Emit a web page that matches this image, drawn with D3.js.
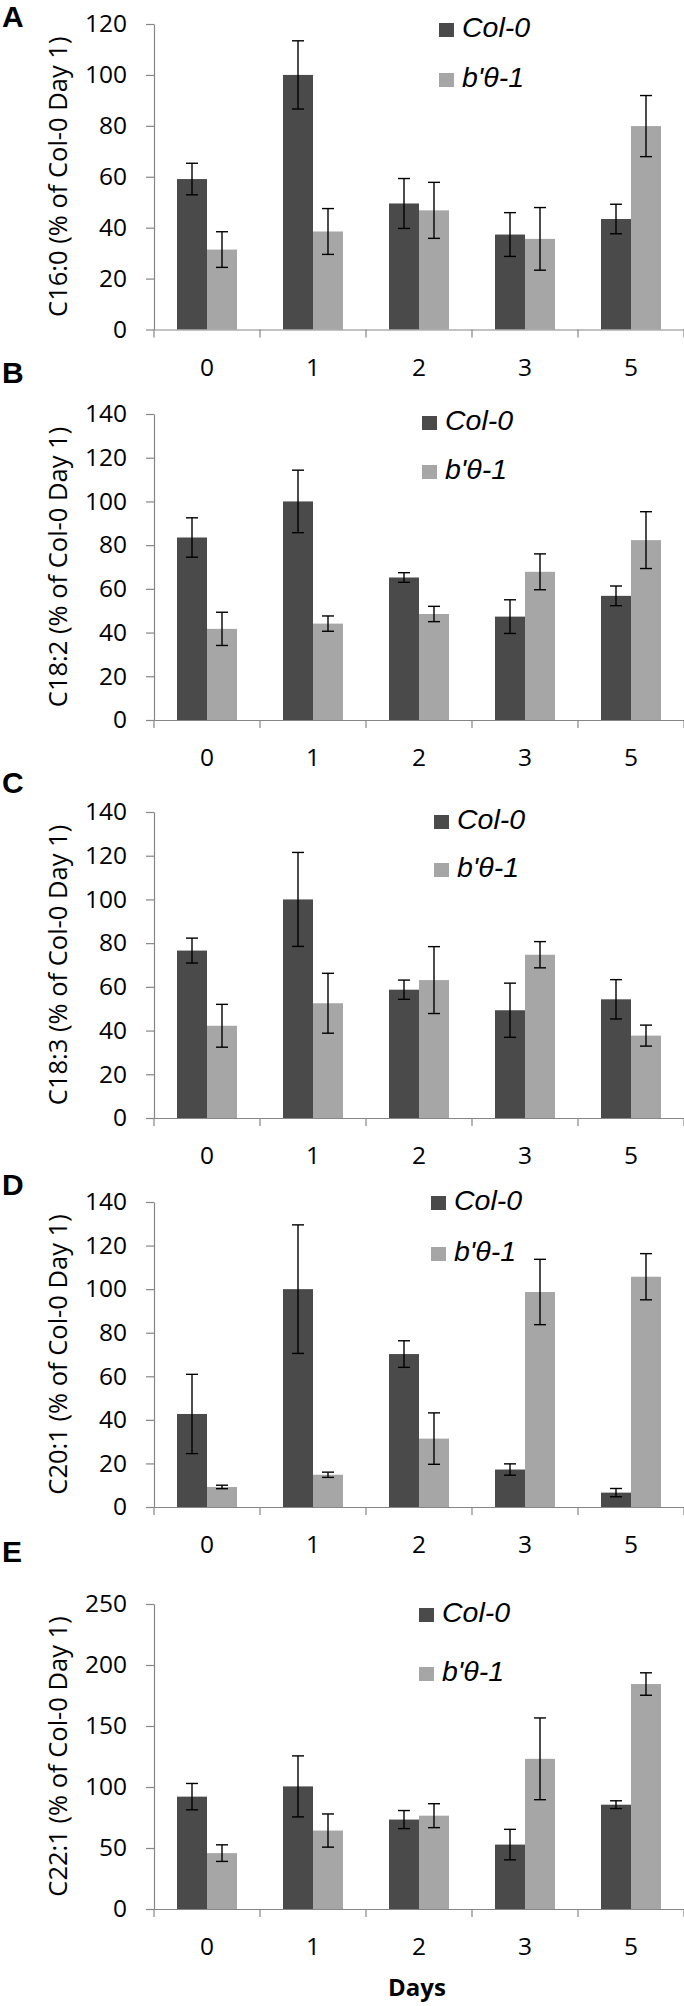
<!DOCTYPE html>
<html>
<head>
<meta charset="utf-8">
<script src="https://cdn.jsdelivr.net/npm/d3@7"></script>
<style>
  html, body { margin: 0; padding: 0; background: #ffffff; }
  svg { display: block; }
</style>
</head>
<body>
<svg id="chart" width="684" height="2006"></svg>
<script>
// ---------- data ----------
const days = ["0", "1", "2", "3", "5"];
const seriesNames = ["Col-0", "b'θ-1"];
const panelLetters = ["A", "B", "C", "D", "E"];
const yLabels = [
  "C16:0 (% of Col-0 Day 1)",
  "C18:2 (% of Col-0 Day 1)",
  "C18:3 (% of Col-0 Day 1)",
  "C20:1 (% of Col-0 Day 1)",
  "C22:1 (% of Col-0 Day 1)"
];
const yMax = [120, 140, 140, 140, 250];
const yStep = [20, 20, 20, 20, 50];

const c160Col = [59.1, 100, 49.5, 37.3, 43.4];
const c160ColErr = [6.2, 13.4, 9.8, 8.6, 5.8];
const c160Bt = [31.4, 38.5, 46.8, 35.6, 79.9];
const c160BtErr = [7.0, 9.0, 11.0, 12.3, 12.0];

const c182Col = [83.5, 100, 65.2, 47.3, 56.8];
const c182ColErr = [9.0, 14.3, 2.2, 7.7, 4.5];
const c182Bt = [41.7, 44.1, 48.5, 67.8, 82.3];
const c182BtErr = [7.6, 3.5, 3.5, 8.2, 13.0];

const c183Col = [76.6, 100, 58.7, 49.3, 54.3];
const c183ColErr = [5.7, 21.5, 4.4, 12.4, 9.0];
const c183Bt = [42.2, 52.5, 63.1, 74.7, 37.7];
const c183BtErr = [9.8, 13.7, 15.3, 6.0, 4.8];

const c201Col = [42.7, 100, 70.2, 17.2, 6.6];
const c201ColErr = [18.2, 29.5, 6.1, 2.6, 1.9];
const c201Bt = [9.2, 14.8, 31.4, 98.7, 105.7];
const c201BtErr = [0.8, 1.2, 11.8, 15.0, 10.6];

const c221Col = [92.1, 100.5, 73.3, 52.8, 85.5];
const c221ColErr = [10.8, 25.0, 7.4, 12.5, 3.2];
const c221Bt = [45.8, 64.3, 76.5, 123.1, 184.4];
const c221BtErr = [6.8, 13.6, 9.8, 33.5, 9.2];

const panelValues = [
  [c160Col, c160Bt], [c182Col, c182Bt], [c183Col, c183Bt], [c201Col, c201Bt], [c221Col, c221Bt]
];
const panelErrors = [
  [c160ColErr, c160BtErr], [c182ColErr, c182BtErr], [c183ColErr, c183BtErr], [c201ColErr, c201BtErr], [c221ColErr, c221BtErr]
];

// ---------- layout (pixels) ----------
const plotLeft = 154, plotRight = 684;
const panelTop = [24, 414, 812, 1202, 1604];
const panelZero = [329.5, 720, 1118, 1507, 1909];
const letterBaseline = [27, 383, 793, 1195, 1562];
const legendX = [439, 422, 434, 431, 419];
const legendY1 = [23, 416, 815, 1196, 1608];
const legendY2 = [73, 465, 863, 1247, 1667];
const colors = ["#4a4a4a", "#a6a6a6"];
const axisColor = "#868686";
const numFont = "'Open Sans', Lato, sans-serif";

const svg = d3.select("#chart");

const x0 = d3.scaleBand().domain(days).range([plotLeft, plotRight]).paddingInner(0).paddingOuter(0);
const x1 = d3.scaleBand().domain(seriesNames).range([0, x0.bandwidth()]).paddingInner(0).paddingOuter(0.767);

panelLetters.forEach((letter, p) => {
  const g = svg.append("g");
  const y = d3.scaleLinear().domain([0, yMax[p]]).range([panelZero[p], panelTop[p]]);

  // panel letter
  svg.append("text")
    .attr("x", 2).attr("y", letterBaseline[p])
    .attr("font-family", "'Liberation Sans', Arial, sans-serif")
    .attr("font-weight", "bold").attr("font-size", 30)
    .attr("fill", "#000").text(letter);

  // y axis
  const ticks = d3.range(0, yMax[p] + 0.001, yStep[p]);
  const yAxis = d3.axisLeft(y).tickValues(ticks).tickSize(8).tickSizeOuter(0).tickPadding(19).tickFormat(d3.format("d"));
  const ya = g.append("g").attr("transform", `translate(${plotLeft},0)`).call(yAxis);
  ya.attr("font-family", numFont).attr("font-size", 24.5);
  ya.select(".domain").attr("stroke", axisColor).attr("stroke-width", 1.2);
  ya.selectAll(".tick line").attr("stroke", axisColor).attr("stroke-width", 1.2);
  ya.selectAll(".tick text").attr("fill", "#000");

  // bars
  const rows = days.map((d, i) => seriesNames.map((s, k) => ({
    day: d, series: s, k: k, v: panelValues[p][k][i], e: panelErrors[p][k][i]
  })));
  const groups = g.selectAll(".grp").data(rows).enter().append("g")
    .attr("transform", (r, i) => `translate(${x0(days[i])},0)`);
  groups.selectAll("rect").data(r => r).enter().append("rect")
    .attr("x", d => x1(d.series))
    .attr("width", x1.bandwidth())
    .attr("y", d => y(d.v))
    .attr("height", d => y(0) - y(d.v))
    .attr("fill", d => colors[d.k]);

  // x axis (labels at band centers, ticks at band boundaries)
  const xAxis = d3.axisBottom(x0).tickSize(0).tickSizeOuter(0);
  const xa = g.append("g").attr("transform", `translate(0,${panelZero[p]})`).call(xAxis);
  xa.attr("font-family", numFont).attr("font-size", 24.5);
  xa.select(".domain").attr("stroke", axisColor).attr("stroke-width", 1.2);
  xa.selectAll(".tick text").attr("y", 46).attr("dy", 0).attr("fill", "#000");
  const bounds = days.map(d => x0(d)).concat([x0(days[days.length - 1]) + x0.bandwidth()]);
  g.selectAll(".btick").data(bounds).enter().append("line")
    .attr("x1", d => d).attr("x2", d => d)
    .attr("y1", panelZero[p]).attr("y2", panelZero[p] + 8)
    .attr("stroke", axisColor).attr("stroke-width", 1.2);

  // error bars
  const cap = 6;
  const eb = groups.selectAll(".err").data(r => r).enter().append("g");
  eb.append("line")
    .attr("x1", d => x1(d.series) + x1.bandwidth() / 2)
    .attr("x2", d => x1(d.series) + x1.bandwidth() / 2)
    .attr("y1", d => y(d.v - d.e)).attr("y2", d => y(d.v + d.e))
    .attr("stroke", "#000").attr("stroke-width", 1.4);
  [-1, 1].forEach(sgn => {
    eb.append("line")
      .attr("x1", d => x1(d.series) + x1.bandwidth() / 2 - cap)
      .attr("x2", d => x1(d.series) + x1.bandwidth() / 2 + cap)
      .attr("y1", d => y(d.v + sgn * d.e)).attr("y2", d => y(d.v + sgn * d.e))
      .attr("stroke", "#000").attr("stroke-width", 1.4);
  });

  // y label
  const cy = (panelTop[p] + panelZero[p]) / 2;
  svg.append("text")
    .attr("transform", `translate(57,${cy}) rotate(-90)`)
    .attr("text-anchor", "middle").attr("dominant-baseline", "central")
    .attr("font-family", numFont).attr("font-size", 25.5)
    .attr("fill", "#000").text(yLabels[p]);

  // legend
  [legendY1[p], legendY2[p]].forEach((ly, k) => {
    svg.append("rect").attr("x", legendX[p]).attr("y", ly)
      .attr("width", 15).attr("height", 14).attr("fill", colors[k]);
    svg.append("text").attr("x", legendX[p] + 23).attr("y", ly + 14)
      .attr("font-family", "'Liberation Sans', Arial, sans-serif")
      .attr("font-style", "italic").attr("font-size", 28.5)
      .attr("fill", "#000").text(seriesNames[k]);
  });
});

// x axis title
svg.append("text")
  .attr("x", (plotLeft + plotRight) / 2 - 2).attr("y", 1996)
  .attr("text-anchor", "middle")
  .attr("font-family", numFont).attr("font-weight", "bold").attr("font-size", 24)
  .attr("fill", "#000").text("Days");
</script>
</body>
</html>
